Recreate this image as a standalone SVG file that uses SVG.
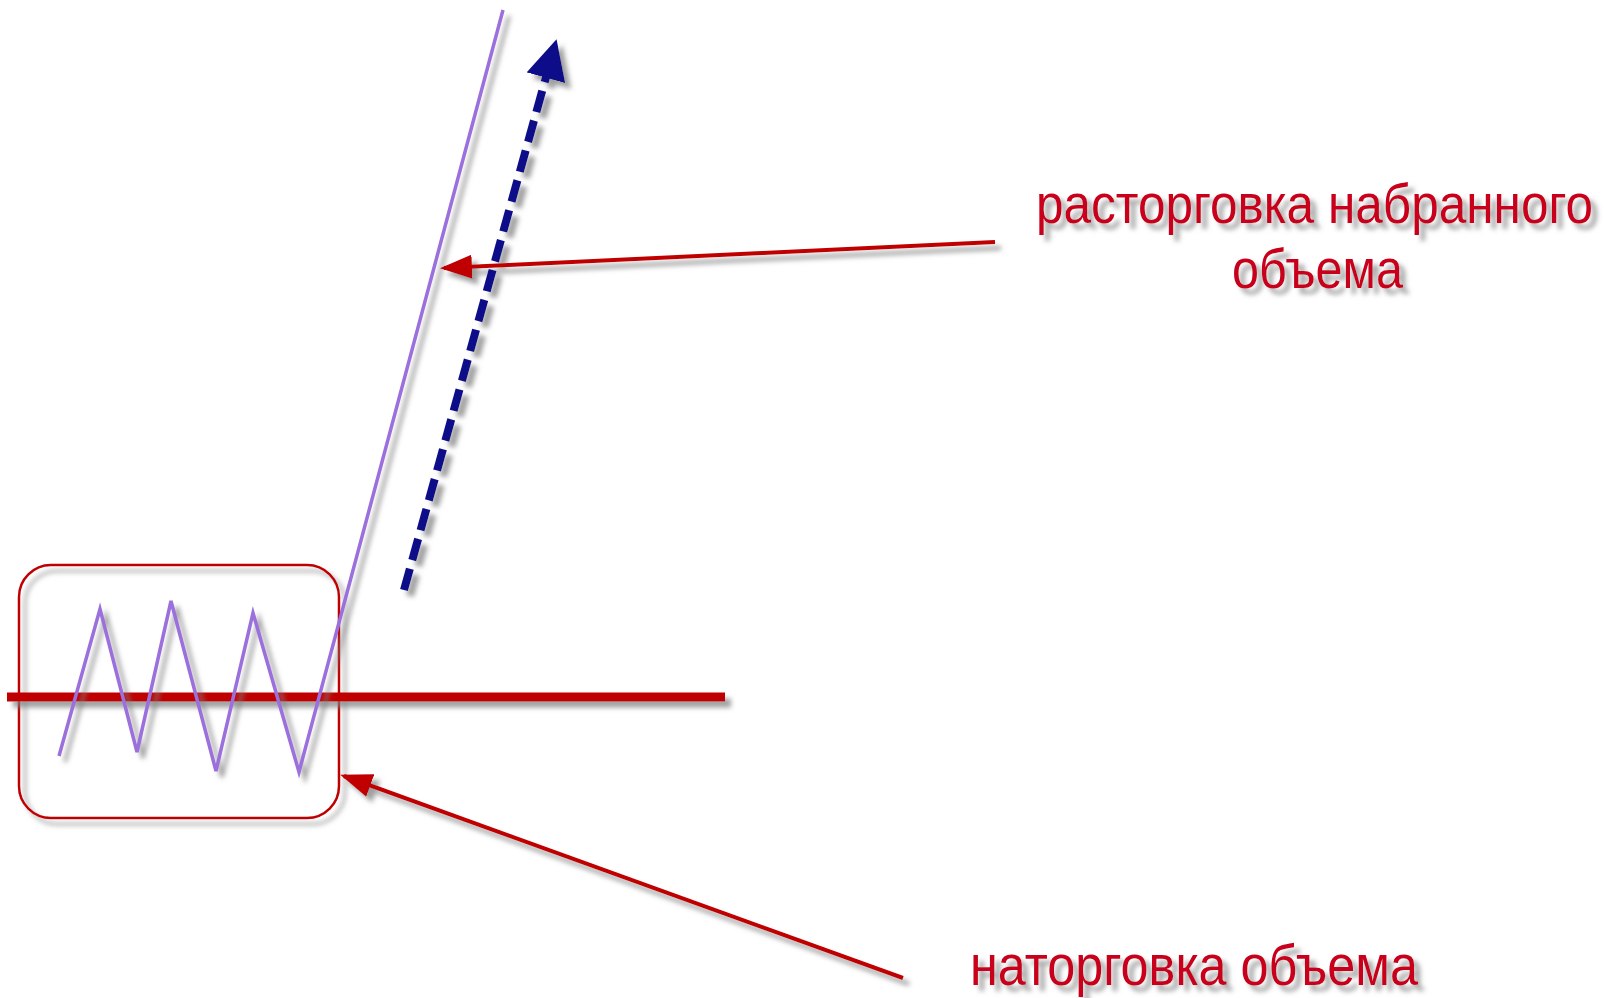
<svg xmlns="http://www.w3.org/2000/svg" width="1605" height="998" viewBox="0 0 1605 998">
<style>
.lbl{font-family:"Liberation Sans",Arial,sans-serif;fill:#c8001e;font-size:55px;}
.big{font-size:58px;}
.purple{fill:none;stroke:#9b6fdc;stroke-width:3.5;stroke-linejoin:miter;}
</style>
<defs>
<filter id="sh" filterUnits="userSpaceOnUse" x="0" y="0" width="1605" height="998">
<feDropShadow dx="6" dy="6" stdDeviation="2.5" flood-color="#808080" flood-opacity="0.75"/>
</filter>
<marker id="ra" markerWidth="8" markerHeight="6" refX="7" refY="3" orient="auto" markerUnits="strokeWidth">
<path d="M0,0 L8,3 L0,6 z" fill="#c00000"/>
</marker>
<marker id="ba" markerWidth="5" markerHeight="5" refX="1" refY="2.5" orient="auto" markerUnits="strokeWidth">
<path d="M0,0 L5,2.5 L0,5 z" fill="#0d0d8a"/>
</marker>
</defs>
<rect width="1605" height="998" fill="#ffffff"/>
<g id="box" filter="url(#sh)">
<rect x="19" y="565" width="320" height="253" rx="32" ry="32" fill="none" stroke="#c00000" stroke-width="2.5"/>
</g>
<g id="level" filter="url(#sh)">
<rect x="7" y="692.5" width="718" height="9" fill="#c00000"/>
</g>
<g id="price" filter="url(#sh)">
<polyline class="purple" points="59,756 100,609 137,752 171,601 216,771 253,613 299,772 503,10"/>
</g>
<g id="connectors" filter="url(#sh)">
<line x1="404" y1="590" x2="548" y2="70" stroke="#0d0d8a" stroke-width="8" stroke-dasharray="22,9" marker-end="url(#ba)"/>
<line x1="995" y1="242" x2="444" y2="268" stroke="#c00000" stroke-width="4" marker-end="url(#ra)"/>
<line x1="903" y1="978" x2="344" y2="776" stroke="#c00000" stroke-width="4" marker-end="url(#ra)"/>
</g>
<g id="label1" filter="url(#sh)">
<text class="lbl" x="1036" y="223" textLength="557" lengthAdjust="spacingAndGlyphs">расторговка набранного</text>
<text class="lbl" x="1232" y="288" textLength="171" lengthAdjust="spacingAndGlyphs">объема</text>
</g>
<g id="label2" filter="url(#sh)">
<text class="lbl big" x="970" y="985" textLength="448" lengthAdjust="spacingAndGlyphs">наторговка объема</text>
</g>
</svg>
